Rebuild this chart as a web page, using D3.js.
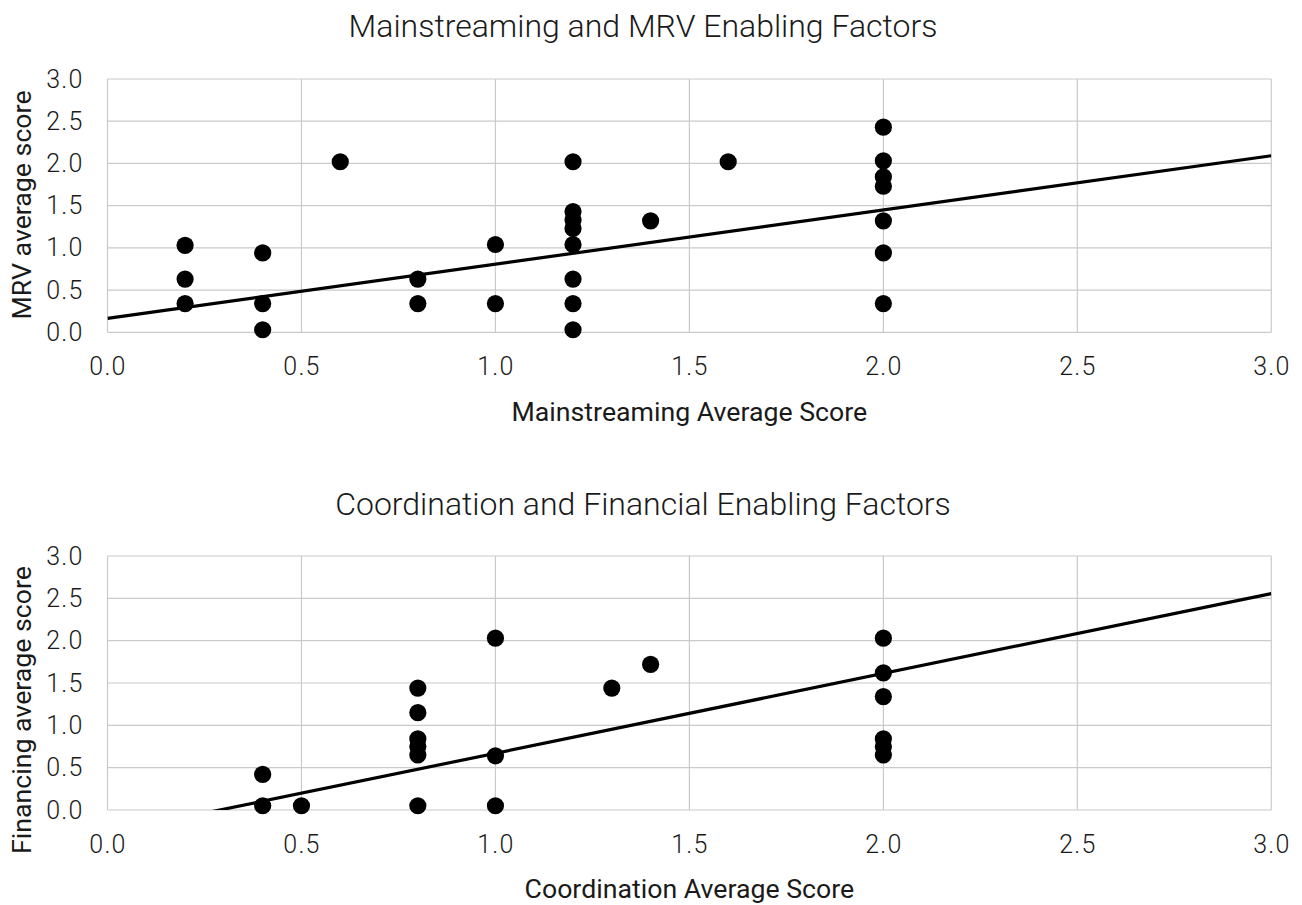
<!DOCTYPE html>
<html>
<head>
<meta charset="utf-8">
<script src="https://cdn.jsdelivr.net/npm/d3@7"></script>
<style>
    body { margin: 0; background: #fff; }
    svg text { font-family: Roboto, "Noto Sans", sans-serif; fill: #1a1a1a; }
</style>
</head>
<body>
<div id="graphDiv"></div>
<script>
// chart 1 : mainstreaming vs MRV
var mainX = [0.2, 0.2, 0.2, 0.4, 0.4, 0.4, 0.6, 0.8, 0.8, 1.0, 1.0,
             1.2, 1.2, 1.2, 1.2, 1.2, 1.2, 1.2, 1.2, 1.4, 1.6,
             2.0, 2.0, 2.0, 2.0, 2.0, 2.0, 2.0];
var mrvY  = [1.03, 0.63, 0.34, 0.94, 0.34, 0.03, 2.02, 0.63, 0.34, 1.04, 0.34,
             2.02, 1.43, 1.33, 1.23, 1.04, 0.63, 0.34, 0.03, 1.32, 2.02,
             2.43, 2.03, 1.84, 1.73, 1.32, 0.94, 0.34];
// chart 2 : coordination vs financing
var coordX = [0.4, 0.4, 0.5, 0.8, 0.8, 0.8, 0.8, 0.8, 0.8, 1.0, 1.0, 1.0, 1.3, 1.4,
              2.0, 2.0, 2.0, 2.0, 2.0, 2.0];
var finY   = [0.42, 0.05, 0.05, 1.44, 1.15, 0.84, 0.75, 0.65, 0.05, 2.03, 0.64, 0.05, 1.44, 1.72,
              2.03, 1.62, 1.34, 0.84, 0.75, 0.65];
// linear trendlines [intercept, slope]
var trendA = [0.165, 0.642];
var trendB = [-0.273, 0.943];
var ticks = [0, 0.5, 1, 1.5, 2, 2.5, 3];

var W = 1302, H = 905;
var svg = d3.select("#graphDiv").append("svg")
    .attr("width", W)
    .attr("height", H);

var panels = [
    {id: "a", xs: mainX, ys: mrvY, trend: trendA, top: 79, bottom: 332.3,
     title: "Mainstreaming and MRV Enabling Factors", titleY: 37,
     xTitle: "Mainstreaming Average Score", xTitleY: 421,
     yTitle: "MRV average score", yTitleC: 205},
    {id: "b", xs: coordX, ys: finY, trend: trendB, top: 556, bottom: 810,
     title: "Coordination and Financial Enabling Factors", titleY: 515,
     xTitle: "Coordination Average Score", xTitleY: 898,
     yTitle: "Financing average score", yTitleC: 710}
];

var left = 107.5, right = 1271.3;

panels.forEach(function (p) {
    var xScale = d3.scaleLinear().domain([0, 3]).range([left, right]);
    var yScale = d3.scaleLinear().domain([0, 3]).range([p.bottom, p.top]);
    var g = svg.append("g").attr("class", "panel-" + p.id);

    g.append("clipPath").attr("id", "clip-" + p.id)
        .append("rect")
        .attr("x", left).attr("y", p.top)
        .attr("width", right - left).attr("height", p.bottom - p.top);

    // gridlines
    g.append("g").selectAll("line.h").data(ticks).join("line")
        .attr("x1", left).attr("x2", right)
        .attr("y1", function (d) { return yScale(d); })
        .attr("y2", function (d) { return yScale(d); })
        .attr("stroke", "#cacaca").attr("stroke-width", 1.2);
    g.append("g").selectAll("line.v").data(ticks).join("line")
        .attr("y1", p.top).attr("y2", p.bottom)
        .attr("x1", function (d) { return xScale(d); })
        .attr("x2", function (d) { return xScale(d); })
        .attr("stroke", "#cacaca").attr("stroke-width", 1.2);

    // tick labels
    var xAxis = d3.axisBottom(xScale).tickValues(ticks).tickFormat(d3.format(".1f")).tickSize(0).tickPadding(0);
    var yAxis = d3.axisLeft(yScale).tickValues(ticks).tickFormat(d3.format(".1f")).tickSize(0).tickPadding(24);
    var xa = g.append("g").attr("transform", "translate(0," + (p.bottom + 25) + ")").call(xAxis);
    var ya = g.append("g").attr("transform", "translate(" + left + ",0)").call(yAxis);
    [xa, ya].forEach(function (a) {
        a.select(".domain").remove();
        a.selectAll("text")
            .attr("font-family", "Roboto")
            .attr("font-weight", 300)
            .attr("font-size", 25)
            .attr("letter-spacing", 1.2)
            .attr("fill", "#1a1a1a");
    });
    xa.selectAll("text").attr("dy", "0.71em");

    // trendline
    var lineFunc = d3.line()
        .x(function (d) { return xScale(d); })
        .y(function (d) { return yScale(p.trend[0] + p.trend[1] * d); });
    g.append("path")
        .attr("clip-path", "url(#clip-" + p.id + ")")
        .attr("d", lineFunc([0, 3]))
        .attr("fill", "none")
        .attr("stroke", "#000")
        .attr("stroke-width", 3.2);

    // points
    g.append("g").selectAll("circle").data(p.xs).join("circle")
        .attr("cx", function (d) { return xScale(d); })
        .attr("cy", function (d, i) { return yScale(p.ys[i]); })
        .attr("r", 8.6)
        .attr("fill", "#000");

    // titles
    g.append("text")
        .attr("x", 643).attr("y", p.titleY)
        .attr("text-anchor", "middle")
        .attr("font-weight", 300)
        .attr("font-size", 32)
        .text(p.title);
    g.append("text")
        .attr("x", (left + right) / 2).attr("y", p.xTitleY)
        .attr("text-anchor", "middle")
        .attr("font-size", 26.7)
        .text(p.xTitle);
    g.append("text")
        .attr("transform", "translate(31," + p.yTitleC + ") rotate(-90)")
        .attr("text-anchor", "middle")
        .attr("font-size", 26.7)
        .text(p.yTitle);
});
</script>
</body>
</html>
